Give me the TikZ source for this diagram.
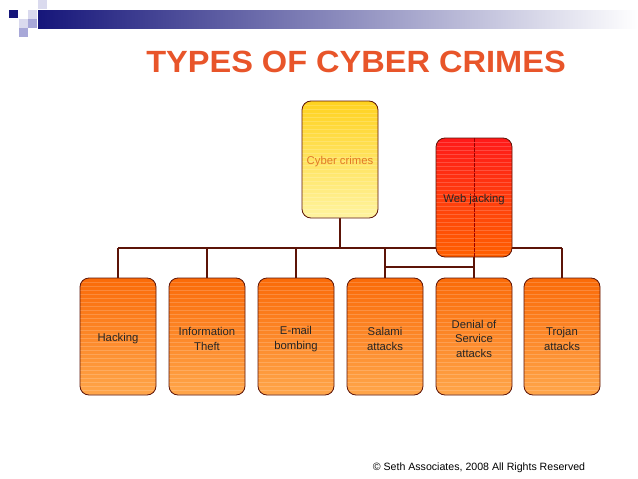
\documentclass[tikz,border=0pt]{standalone}
\usepackage{fontspec}
\setmainfont{Liberation Sans}
\usetikzlibrary{backgrounds}
\definecolor{titlered}{HTML}{E8552A}
\definecolor{edge}{HTML}{5C1408}
\definecolor{navy}{HTML}{16167A}
\definecolor{lilac}{HTML}{A8A8D8}
\definecolor{pale}{HTML}{DADAEE}
\definecolor{orgtop}{HTML}{FA6A08}
\definecolor{orgbot}{HTML}{FFA64A}
\definecolor{goldtop}{HTML}{FFD21F}
\definecolor{goldbot}{HTML}{FFF4A0}
\definecolor{crimetext}{HTML}{E07828}
\newcommand\lift{\rule{0pt}{13pt}}
\tikzset{
  box/.style={draw=edge, line width=0.8pt, rounded corners=9pt,
    minimum width=76pt, minimum height=117pt, inner sep=0pt, align=center,
    font=\fontsize{11.3}{14.5}\selectfont, text=black!85,
    path picture={\foreach \k in {1,...,29}
      \draw[white,opacity=.18,line width=.5pt]
        ([yshift=-\k*4pt]path picture bounding box.north west) --
        ([yshift=-\k*4pt]path picture bounding box.north east);}},
  kind/.style={box, top color=orgtop, bottom color=orgbot},
  link/.style={draw=edge, line width=1.6pt}
}
\begin{document}
\begin{tikzpicture}[x=1pt,y=-1pt]
	  \useasboundingbox (0,0) rectangle (638,479);
	  % header bar
	  \shade[left color=navy, right color=white] (38,10) rectangle (638,28);
	  \fill[navy] (9,10) rectangle (18,18);
	  \fill[pale] (28,10) rectangle (37,19);
	  \fill[pale] (38,0) rectangle (47,9);
	  \fill[pale] (19,19) rectangle (28,28);
	  \fill[lilac] (28,19) rectangle (37,28);
	  \fill[lilac] (19,28) rectangle (28,37);
	  \node[anchor=base, text=titlered, font=\fontsize{30.7}{34}\selectfont\bfseries] (title) at (356,72) {\scalebox{1.06}[1]{TYPES OF CYBER CRIMES}};
	  % top level
	  \node[box, top color=goldtop, bottom color=goldbot, text=crimetext] (cyber) at (340,159.5) {\lift Cyber crimes};
	  \node[box, top color=red!90, bottom color=orange!75!red, minimum height=119pt] (web) at (474,197.5) {\lift Web jacking};
	  \draw[red!60!black, line width=.8pt, dash pattern=on 4pt off 1pt] (web.north) -- (web.south);
	  % bottom level
	  \node[kind] (hack) at (118,336.5) {\lift Hacking};
	  \node[kind] (theft) at (207,336.5) {\lift Information\\Theft};
	  \node[kind] (mail) at (296,336.5) {\lift E-mail\\bombing};
	  \node[kind] (salami) at (385,336.5) {\lift Salami\\attacks};
	  \node[kind] (dos) at (474,336.5) {\lift Denial of\\Service\\attacks};
	  \node[kind] (trojan) at (562,336.5) {\lift Trojan\\attacks};
	  % connectors
	  \coordinate (busL) at (118,248);
	  \coordinate (busR) at (562,248);
	  \coordinate (bus2) at (385,267);
	  \begin{scope}[on background layer]
	    \draw[link] (busL) -- (busR);
	    \draw[link] (cyber.south) -- (cyber.south |- busL);
	    \draw[link] (web.south) -- (dos.north);
	    \draw[link] (bus2) -- (bus2 -| dos.north);
	    \foreach \b in {hack,theft,mail,salami,trojan}
	      \draw[link] (\b.north) -- (\b.north |- busL);
	  \end{scope}
	  \node[anchor=base, font=\fontsize{10.6}{12}\selectfont] (note) at (479,470) {© Seth Associates, 2008 All Rights Reserved};
	\end{tikzpicture}
\end{document}
